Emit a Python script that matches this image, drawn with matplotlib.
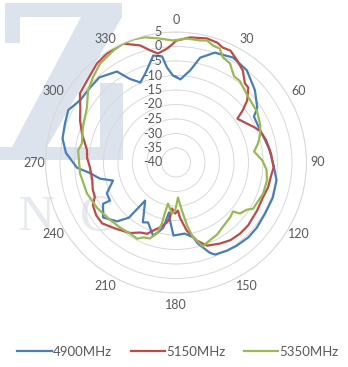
import numpy as np
import matplotlib
matplotlib.use("Agg")
import matplotlib.pyplot as plt
from matplotlib.patches import Polygon, PathPatch
from matplotlib.lines import Line2D
from matplotlib.textpath import TextPath
from matplotlib.font_manager import FontProperties
import matplotlib.transforms as mtransforms

# ---------------- data ----------------
series_names = ["4900MHz", "5150MHz", "5350MHz"]

blue_ang = [0, 3, 8.7, 13, 19.5, 28.5, 37.5, 47.5, 56, 59.5, 67, 74, 82, 92, 100, 110, 120,
            129, 136, 144, 150, 157, 159.5, 165, 167, 173, 182, 186, 188, 191, 194.5, 197.5,
            205, 209, 219, 220.5, 225, 233, 240.5, 240, 246, 254, 258, 263, 267, 275, 282,
            289.5, 296, 303, 311, 318, 327, 331, 336, 341, 348, 352.5, 354.6, 358, 360]
blue_db = [-10.5, -11.3, -7.9, -2.9, 0.2, 1.2, 0.1, -3.1, -6.2, -8.8, -9.0, -8.5, -7.5, -6.3,
           -4.8, -4.5, -4.6, -4.2, -4.1, -4.5, -4.9, -5.5, -6.8, -11.1, -13.5, -15.3, -14.8,
           -20.0, -22.6, -17.1, -15.1, -13.6, -17.2, -16.4, -23.1, -15.0, -11.3, -8.5, -11.1,
           -13.7, -13.9, -17.4, -13.2, -10.1, -5.8, -1.9, 0.0, 0.6, 1.3, -0.6, -0.7, -0.5,
           -2.6, -7.0, -9.8, -7.5, -2.3, -3.1, -7.1, -10.0, -10.5]

red_ang = [0, 6.4, 14, 19, 22, 26, 31, 36, 41, 44, 49, 52, 54.5, 60, 66, 69.6, 76, 84.5, 93,
           98, 105, 112, 120.7, 131, 138, 145, 151.5, 159.5, 165, 171, 176, 177.6, 181, 185,
           186.2, 188.5, 194, 198.7, 202, 207, 213, 222, 230.5, 236.5, 243, 247, 252, 258,
           266.7, 273, 278, 287, 293.6, 300, 305.7, 312.7, 321.4, 327.7, 336, 343, 347,
           350.6, 355.5, 358.6, 360]
red_db = [2.0, 3.4, 4.1, 3.7, 2.8, 2.9, 1.0, -0.8, -3.8, -4.1, -7.5, -10.8, -14.0, -12.5,
          -10.3, -9.0, -8.0, -7.1, -6.3, -6.9, -7.1, -7.7, -7.5, -7.0, -7.0, -7.3, -8.2,
          -9.4, -12.1, -16.2, -21.0, -23.4, -22.4, -24.1, -20.9, -19.1, -16.9, -15.2, -13.5,
          -12.9, -11.0, -9.2, -7.0, -7.0, -7.8, -9.6, -9.8, -10.5, -10.3, -9.3, -9.0, -6.1,
          -3.9, -1.9, 0.8, 1.7, 3.7, 4.5, 4.9, 2.2, -0.3, -1.9, -0.6, 1.0, 2.0]

green_ang = [0, 5, 11, 14.3, 17.5, 21, 24, 28.6, 34, 38, 48, 58, 66, 72, 77, 82, 88.7, 94.5,
             101, 109.6, 121, 123.5, 128.6, 130.7, 135.5, 143.7, 150.3, 158.8, 162.2, 167.2,
             170, 173, 176.7, 181, 184.5, 191, 192.4, 193, 195, 199, 203.7, 207, 213, 220.7,
             231.4, 240.3, 250.8, 263.5, 277, 281.4, 290.6, 301.7, 309.3, 315.7, 322.5, 331,
             336, 341, 346, 352, 358.6, 360]
green_db = [2.2, 2.9, 2.9, 3.4, 2.3, 2.1, -0.3, -1.1, -4.2, -4.3, -6.4, -7.0, -8.2, -9.5,
            -11.0, -12.8, -10.2, -8.7, -8.0, -8.1, -9.0, -10.6, -11.8, -14.1, -13.4, -12.6,
            -11.4, -10.4, -9.6, -13.5, -17.9, -23.3, -27.9, -23.4, -22.3, -25.6, -22.3, -18.4,
            -14.7, -12.3, -11.8, -10.5, -10.8, -10.4, -9.6, -8.6, -7.5, -6.7, -6.0, -6.9,
            -5.7, -3.9, -0.8, 1.0, 3.0, 4.3, 4.9, 4.9, 4.5, 3.2, 2.1, 2.2]

radial_ticks = [-40, -35, -30, -25, -20, -15, -10, -5, 0, 5]
angle_ticks = [0, 30, 60, 90, 120, 150, 180, 210, 240, 270, 300, 330]

colors = ["#4a7ebb", "#be4b48", "#98b954"]

# ---------------- figure ----------------
W, H = 348, 367
fig = plt.figure(figsize=(W / 100, H / 100), dpi=100)
fig.patch.set_facecolor("white")

def px(x, y):
    return (x / W, 1 - y / H)

# background logo watermark (graphic, drawn as shapes)
pix2fig = mtransforms.Affine2D().scale(1 / W, 1 / H) + fig.transFigure
zpts = [(5, 3), (122, 3), (122, 17), (47, 147), (100, 147), (100, 83), (123, 83),
        (123, 160), (0, 160), (0, 147), (12, 147), (81, 17), (20, 17), (20, 43), (5, 43)]
fig.patches.append(Polygon([(x, H - y) for x, y in zpts], closed=True, transform=pix2fig,
                           facecolor="#dde3ed", edgecolor="none", zorder=0))

def logo_letter(ch, left, top, bottom):
    tp = TextPath((0, 0), ch, size=50, prop=FontProperties(family="Liberation Serif"))
    ext = tp.get_extents()
    s = (bottom - top) / ext.height
    tr = mtransforms.Affine2D().translate(-ext.x0, -ext.y0).scale(s).translate(left, H - bottom)
    fig.patches.append(PathPatch(tr.transform_path(tp), transform=pix2fig,
                                 facecolor="#e6e9f0", edgecolor="none", zorder=0))

logo_letter("N", 20, 197, 230)
logo_letter("C", 82, 196, 231)

cx, cy, R = 176, 162.5, 130.5
ax = fig.add_axes([(cx - R) / W, (H - cy - R) / H, 2 * R / W, 2 * R / H], projection="polar")
ax.set_zorder(2)
ax.set_facecolor("none")
ax.set_theta_zero_location("N")
ax.set_theta_direction(-1)
ax.set_ylim(-40, 5)
ax.set_yticks(radial_ticks)
ax.set_yticklabels([])
ax.set_xticks([])
ax.yaxis.grid(True, color="#d9d9d9", lw=0.7)
ax.xaxis.grid(False)
ax.spines["polar"].set_color("#d9d9d9")
ax.spines["polar"].set_linewidth(0.7)

font = "Lato"
tcol = "#595959"

# radial labels
off = mtransforms.ScaledTranslation(-14 / 100, 0, fig.dpi_scale_trans)
for v in radial_ticks:
    ax.text(0, v, str(v), transform=ax.transData + off, ha="right", va="center",
            fontsize=9, color=tcol, family=font, clip_on=False)

# angular labels
for a in angle_ticks:
    ax.text(np.deg2rad(a), 9.0, str(a), ha="center", va="center", fontsize=9,
            color=tcol, family=font, clip_on=False)

for ang, vals, c in zip([blue_ang, red_ang, green_ang], [blue_db, red_db, green_db], colors):
    ax.plot(np.deg2rad(ang), vals, color=c, lw=1.6, solid_joinstyle="round")

handles = [Line2D([], [], color=c, lw=1.6) for c in colors]
leg = fig.legend(handles, series_names, loc="center", bbox_to_anchor=(178 / W, 1 - 352 / H),
                 ncol=3, frameon=False, handlelength=2.6, handletextpad=0.1,
                 columnspacing=1.4, prop={"family": font, "size": 9.5})
for t in leg.get_texts():
    t.set_color(tcol)

fig.savefig("out.png", dpi=100)
